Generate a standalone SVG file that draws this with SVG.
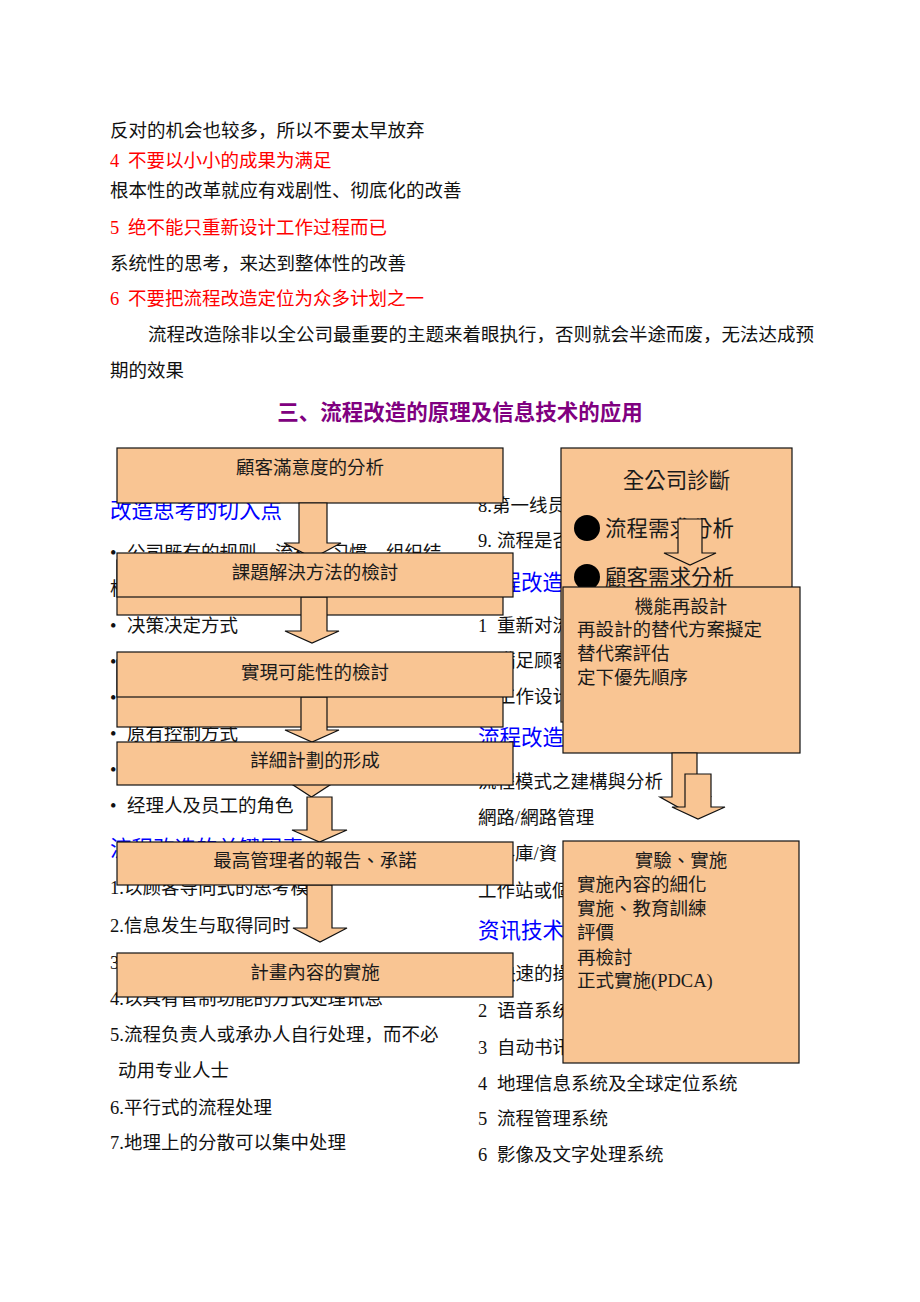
<svg xmlns="http://www.w3.org/2000/svg" width="920" height="1302" viewBox="0 0 920 1302">
<style>
.t{font-family:"Liberation Serif","Noto Sans CJK SC",serif;font-size:18.5px;fill:#111}
.r{fill:#ff0000}
.h{fill:#0000ff;font-size:21.5px}
.ti{font-family:"Liberation Sans","Noto Sans CJK SC",sans-serif;font-size:21.5px;font-weight:bold;fill:#800080;text-anchor:middle}
.bx{fill:#F9C593;stroke:#111;stroke-width:1.2}
.ar{fill:#F9C593;stroke:#111;stroke-width:1.2}
.bt{font-family:"Liberation Serif","Noto Sans CJK TC",serif;font-size:18.5px;fill:#1a1a1a}
.c{text-anchor:middle}
.big{font-size:21.5px}
</style>
<rect width="920" height="1302" fill="#fff"/>
<g id="intro">
<text class="t" x="110" y="137">反对的机会也较多，所以不要太早放弃</text>
<text class="t r" y="167"><tspan x="110">4</tspan><tspan x="128">不要以小小的成果为满足</tspan></text>
<text class="t" x="110" y="197">根本性的改革就应有戏剧性、彻底化的改善</text>
<text class="t r" y="234"><tspan x="110">5</tspan><tspan x="128">绝不能只重新设计工作过程而已</tspan></text>
<text class="t" x="110" y="270">系统性的思考，来达到整体性的改善</text>
<text class="t r" y="305"><tspan x="110">6</tspan><tspan x="128">不要把流程改造定位为众多计划之一</tspan></text>
<text class="t" x="148" y="341" textLength="666" lengthAdjust="spacing">流程改造除非以全公司最重要的主题来着眼执行，否则就会半途而废，无法达成预</text>
<text class="t" x="110" y="377">期的效果</text>
<text class="ti" x="460" y="420">三、流程改造的原理及信息技术的应用</text>
</g>
<g id="left-text">
<text class="t h" x="110" y="518">改造思考的切入点</text>
<text class="t" x="110" y="559">•</text><text class="t" x="127" y="559">公司既有的规则、流程、习惯、组织结</text>
<text class="t" x="110" y="595">构</text>
<text class="t" x="110" y="632">•</text><text class="t" x="127" y="632">决策决定方式</text>
<text class="t" x="110" y="668">•</text>
<text class="t" x="110" y="704">•</text>
<text class="t" x="110" y="740">•</text><text class="t" x="127" y="740">原有控制方式</text>
<text class="t" x="110" y="776">•</text>
<text class="t" x="110" y="812">•</text><text class="t" x="127" y="812">经理人及员工的角色</text>
<text class="t h" x="110" y="856">流程改造的关键因素</text>
<text class="t" x="110" y="894">1.以顾客导向式的思考模式</text>
<text class="t" x="110" y="932">2.信息发生与取得同时</text>
<text class="t" x="110" y="969">3.</text>
<text class="t" x="110" y="1005">4.以具有管制功能的方式处理讯息</text>
<text class="t" x="110" y="1041">5.流程负责人或承办人自行处理，而不必</text>
<text class="t" x="118" y="1077">动用专业人士</text>
<text class="t" x="110" y="1114">6.平行式的流程处理</text>
<text class="t" x="110" y="1149">7.地理上的分散可以集中处理</text>
</g>
<g id="right-text">
<text class="t" x="478" y="512">8.第一线员工</text>
<text class="t" y="547"><tspan x="478">9.</tspan><tspan x="497">流程是否</tspan></text>
<text class="t h" x="478" y="590">流程改造</text>
<text class="t" y="632"><tspan x="478">1</tspan><tspan x="497">重新对流</tspan></text>
<text class="t" y="667"><tspan x="478">2</tspan><tspan x="497">满足顾客</tspan></text>
<text class="t" y="703"><tspan x="478">3</tspan><tspan x="497">工作设计</tspan></text>
<text class="t h" x="478" y="745">流程改造</text>
<text class="t" x="478" y="788">流程模式之建構與分析</text>
<text class="t" x="478" y="824">網路/網路管理</text>
<text class="t" x="478" y="860">資料庫/資</text>
<text class="t" x="478" y="897">工作站或個</text>
<text class="t h" x="478" y="938">资讯技术</text>
<text class="t" y="980"><tspan x="478">1</tspan><tspan x="497">快速的操</tspan></text>
<text class="t" y="1017"><tspan x="478">2</tspan><tspan x="497">语音系统</tspan></text>
<text class="t" y="1054"><tspan x="478">3</tspan><tspan x="497">自动书讯</tspan></text>
<text class="t" y="1090"><tspan x="478">4</tspan><tspan x="497">地理信息系统及全球定位系统</tspan></text>
<text class="t" y="1125"><tspan x="478">5</tspan><tspan x="497">流程管理系统</tspan></text>
<text class="t" y="1161"><tspan x="478">6</tspan><tspan x="497">影像及文字处理系统</tspan></text>
</g>
<g id="node-diagnosis">
<rect class="bx" x="561" y="448" width="231" height="274"/>
<text class="bt c big" x="676.5" y="488">全公司診斷</text>
<circle cx="587" cy="528" r="13" fill="#000"/>
<text class="bt big" x="605" y="536">流程需求分析</text>
<circle cx="587" cy="577" r="13" fill="#000"/>
<text class="bt big" x="605" y="585">顧客需求分析</text>
</g>
<g id="node-redesign">
<rect class="bx" x="563" y="587" width="237" height="166"/>
<text class="bt c" x="681" y="613">機能再設計</text>
<text class="bt" x="577" y="636">再設計的替代方案擬定</text>
<text class="bt" x="577" y="660">替代案評估</text>
<text class="bt" x="577" y="684">定下優先順序</text>
</g>
<g id="node-implement">
<rect class="bx" x="563" y="841" width="236" height="222"/>
<text class="bt c" x="681" y="867">實驗、實施</text>
<text class="bt" x="577" y="891">實施內容的細化</text>
<text class="bt" x="577" y="915">實施、教育訓練</text>
<text class="bt" x="577" y="939">評價</text>
<text class="bt" x="577" y="964">再檢討</text>
<text class="bt" x="577" y="987">正式實施(PDCA)</text>
</g>
<g id="node-1">
<rect class="bx" x="117" y="448" width="386" height="55"/>
<text class="bt c" x="310" y="474">顧客滿意度的分析</text>
</g>
<g id="connectors">
<polygon class="ar" points="299,503 327,503 327,543 341,543 313,558 284,543 299,543"/>
<rect class="bx" x="117" y="560" width="386" height="55"/>
<rect class="bx" x="117" y="660" width="386" height="67"/>
<polygon class="ar" points="301,597 327,597 327,631 339,631 312,643 285,631 301,631"/>
<polygon class="ar" points="301,697 327,697 327,730 339,730 312,742 285,730 301,730"/>
<polygon class="ar" points="287,781 336,781 311.5,797"/>
<polygon class="ar" points="307,797 332,797 332,830 347,830 319.5,842 292,830 307,830"/>
<polygon class="ar" points="307,885 332,885 332,928 347,928 320,942 293,928 307,928"/>
<polygon class="ar" points="678,519 702,519 702,553 716,553 690,565 664,553 678,553"/>
<polygon class="ar" points="672,753 697,753 697,797 710,797 685,811 660,797 672,797"/>
<polygon class="ar" points="685,774 711,774 711,807 725,807 698,819 672,807 685,807"/>
</g>
<g id="node-2">
<rect class="bx" x="117" y="553" width="396" height="44"/>
<text class="bt c" x="315" y="579">課題解決方法的檢討</text>
</g>
<g id="node-3">
<rect class="bx" x="117" y="652" width="396" height="45"/>
<text class="bt c" x="315" y="679">實現可能性的檢討</text>
</g>
<g id="node-4">
<rect class="bx" x="117" y="742" width="396" height="43"/>
<text class="bt c" x="315" y="767">詳細計劃的形成</text>
</g>
<g id="node-5">
<rect class="bx" x="117" y="842" width="396" height="43"/>
<text class="bt c" x="315" y="867">最高管理者的報告、承諾</text>
</g>
<g id="node-6">
<rect class="bx" x="117" y="953" width="396" height="44"/>
<text class="bt c" x="315" y="979">計畫內容的實施</text>
</g>
</svg>
